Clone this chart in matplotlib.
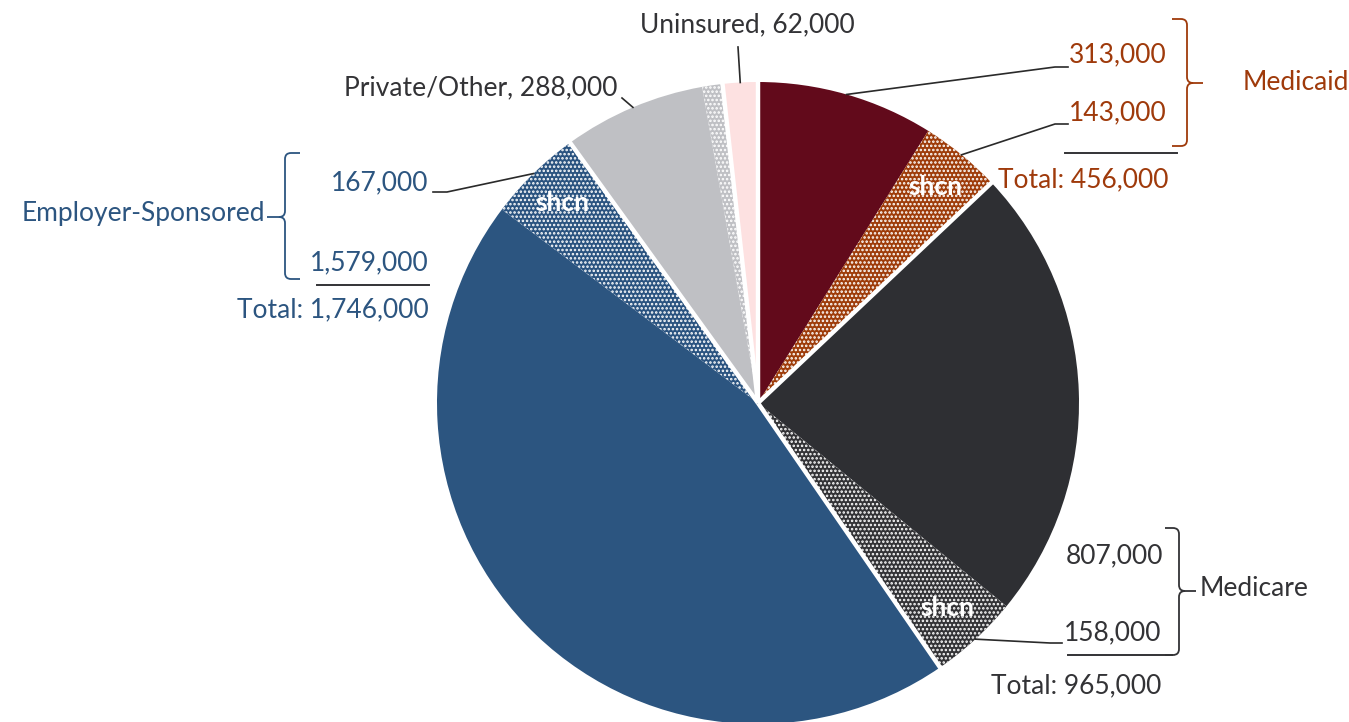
import matplotlib
matplotlib.use("Agg")

import numpy as np
import matplotlib.pyplot as plt
from matplotlib.path import Path
from matplotlib.patches import PathPatch

plt.rcParams["font.family"] = ["Lato", "DejaVu Sans"]
plt.rcParams["hatch.linewidth"] = 1.2

# slices, clockwise from 12 o'clock
slice_names = ["Medicaid", "Medicaid shcn", "Medicare", "Medicare shcn",
               "Employer-Sponsored", "Employer-Sponsored shcn",
               "Private/Other", "Private/Other shcn", "Uninsured"]
slice_values = [313000, 143000, 807000, 158000, 1579000, 167000, 252000, 36000, 62000]
slice_colors = ["#620A1B", "#9E3C0A", "#2E2F33", "#333336", "#2C5580",
                "#2A5380", "#BFC0C4", "#BFC0C4", "#FDE1E1"]
slice_shcn = [False, True, False, True, False, True, False, True, False]
shcn_text = [1, 3, 5]          # hatched slices that carry the "shcn" tag
group_starts = [0, 2, 4, 6, 8]  # first slice of each coverage group

DARK = "#333336"
RUST = "#9F3A0B"
BLUE = "#2C5580"

W, H = 1349, 722
CX, CY, R = 758, 403, 321

fig = plt.figure(figsize=(W / 100, H / 100), dpi=100)
ax = fig.add_axes([0, 0, 1, 1])

# y axis runs downward, so counterclock=True from 270 reads clockwise from the top
wedges, _ = ax.pie(slice_values, colors=slice_colors, startangle=270,
                   counterclock=True, center=(CX, CY), radius=R,
                   wedgeprops=dict(linewidth=0, edgecolor="white"))
for w, hatched in zip(wedges, slice_shcn):
    if hatched:
        w.set_hatch("....")

ax.set_xlim(0, W)
ax.set_ylim(H, 0)
ax.set_aspect("equal")
ax.axis("off")


def arc_point(i, frac=1.0):
    w = wedges[i]
    a = np.deg2rad((w.theta1 + w.theta2) / 2)
    return CX + frac * R * np.cos(a), CY + frac * R * np.sin(a)


# white gaps between coverage groups
for i in group_starts:
    a = np.deg2rad(wedges[i].theta1)
    ax.plot([CX, CX + (R + 3) * np.cos(a)], [CY, CY + (R + 3) * np.sin(a)],
            color="white", lw=3.2, solid_capstyle="butt", zorder=3)

for i in shcn_text:
    x, y = arc_point(i, 0.87)
    ax.text(x, y, "shcn", color="white", fontsize=19, fontweight="bold",
            ha="center", va="center", zorder=4)


def leader(i, *pts):
    x0, y0 = arc_point(i)
    xs = [x0] + [p[0] for p in pts]
    ys = [y0] + [p[1] for p in pts]
    ax.plot(xs, ys, color="#2A2A2A", lw=1.2, zorder=5)


def brace(x, y0, y1, ytip, tail, tip, color):
    s, t, r = np.sign(tail), np.sign(tip), 6
    verts = [(x + tail, y0), (x + s * r, y0), (x, y0), (x, y0 + r),
             (x, ytip - r), (x, ytip), (x + t * r, ytip), (x + tip, ytip),
             (x + t * r, ytip), (x, ytip), (x, ytip + r),
             (x, y1 - r), (x, y1), (x + s * r, y1), (x + tail, y1)]
    codes = [Path.MOVETO, Path.LINETO, Path.CURVE3, Path.CURVE3,
             Path.LINETO, Path.CURVE3, Path.CURVE3, Path.LINETO,
             Path.MOVETO, Path.CURVE3, Path.CURVE3,
             Path.LINETO, Path.CURVE3, Path.CURVE3, Path.LINETO]
    ax.add_patch(PathPatch(Path(verts, codes), fill=False, edgecolor=color,
                           lw=1.3, zorder=5))


FS = 19

# Medicaid
medicaid_total = slice_values[0] + slice_values[1]
ax.text(1167, 55, f"{slice_values[0]:,}", color=RUST, fontsize=FS, ha="right", va="center")
ax.text(1167, 113, f"{slice_values[1]:,}", color=RUST, fontsize=FS, ha="right", va="center")
ax.plot([1065, 1177], [153, 153], color=DARK, lw=1.4)
ax.text(1168, 180, f"Total: {medicaid_total:,}", color=RUST, fontsize=FS, ha="right", va="center")
brace(1187, 19, 146, 83, -15, 16, RUST)
ax.text(1243, 83, "Medicaid", color=RUST, fontsize=FS, ha="left", va="center")
leader(0, (1055, 67), (1068, 67))
leader(1, (1055, 124), (1068, 124))

# Medicare
medicare_total = slice_values[2] + slice_values[3]
ax.text(1163, 556, f"{slice_values[2]:,}", color=DARK, fontsize=FS, ha="right", va="center")
ax.text(1161, 633, f"{slice_values[3]:,}", color=DARK, fontsize=FS, ha="right", va="center")
ax.plot([1068, 1172], [655, 655], color=DARK, lw=1.4)
ax.text(1161, 686, f"Total: {medicare_total:,}", color=DARK, fontsize=FS, ha="right", va="center")
brace(1179, 528, 655, 591, -14, 17, DARK)
ax.text(1200, 589, "Medicare", color=DARK, fontsize=FS, ha="left", va="center")
leader(3, (1050, 643), (1062, 643))

# Employer-Sponsored
employer_total = slice_values[4] + slice_values[5]
ax.text(428, 183, f"{slice_values[5]:,}", color=BLUE, fontsize=FS, ha="right", va="center")
ax.text(429, 263, f"{slice_values[4]:,}", color=BLUE, fontsize=FS, ha="right", va="center")
ax.plot([317, 429], [285, 285], color=DARK, lw=1.4)
ax.text(429, 310, f"Total: {employer_total:,}", color=BLUE, fontsize=FS, ha="right", va="center")
brace(285, 153, 279, 217, 15, -18, BLUE)
ax.text(265, 214, "Employer-Sponsored", color=BLUE, fontsize=FS, ha="right", va="center")
leader(5, (447, 192), (433, 192))

# Private/Other and Uninsured
private_total = slice_values[6] + slice_values[7]
ax.text(617, 88, f"Private/Other, {private_total:,}", color=DARK, fontsize=FS, ha="right", va="center")
leader(6, (622, 98))
ax.text(747, 25, f"Uninsured, {slice_values[8]:,}", color=DARK, fontsize=FS, ha="center", va="center")
leader(8, (738, 47))

fig.savefig("out.png", dpi=100)
plt.close(fig)
